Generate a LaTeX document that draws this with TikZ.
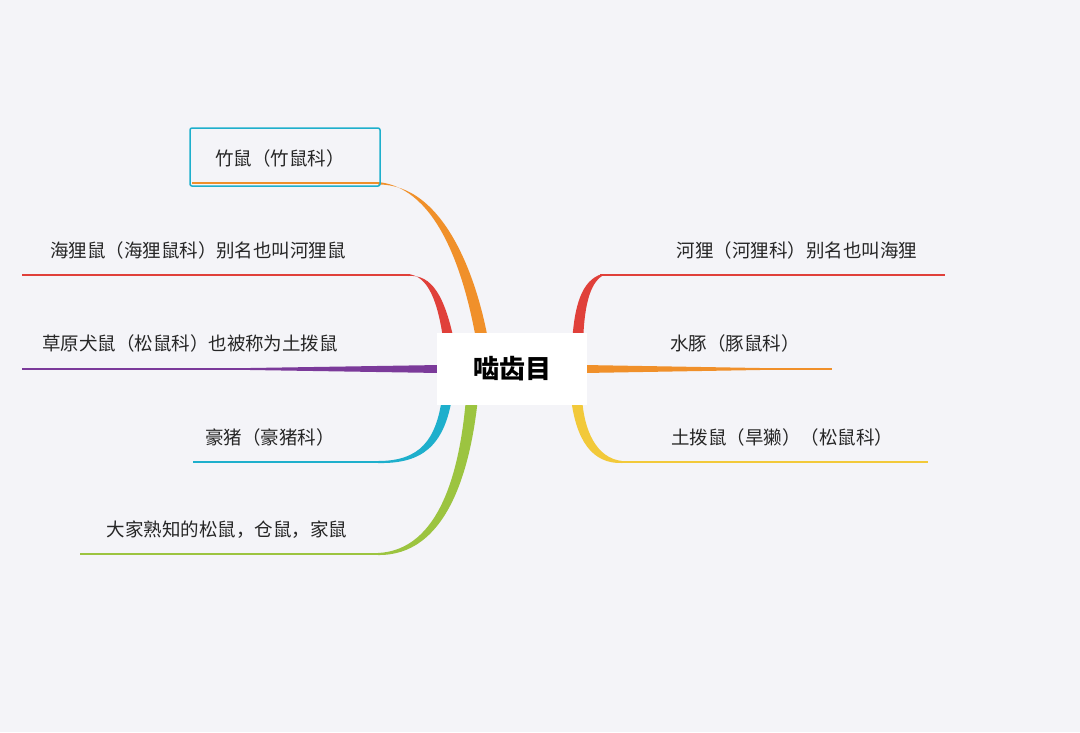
\documentclass[tikz,border=0pt]{standalone}
\usepackage{fontspec}
\setmainfont{Noto Sans CJK SC}
\begin{document}
\begin{tikzpicture}[x=1pt,y=-1pt,
 lbl/.style={font=\fontsize{18.5}{22}\selectfont,text=black!85,inner sep=0},
 ul/.style={line width=2.2pt}]
\definecolor{bg}{HTML}{F4F4F8}
\definecolor{cOr}{HTML}{F0902A}
\definecolor{cRe}{HTML}{E0403A}
\definecolor{cPu}{HTML}{7B3A9A}
\definecolor{cCy}{HTML}{1EAFCC}
\definecolor{cGr}{HTML}{9CC440}
\definecolor{cYe}{HTML}{F2C93A}
\fill[bg] (0,0) rectangle (1080,732);
\useasboundingbox (0,0) rectangle (1080,732);
% left
\coordinate (a1) at (192,183); \coordinate (b1) at (378,183);
\draw[cOr,ul] (a1) -- (b1);
\fill[cOr] (378,182) .. controls (440,188) and (466,280) .. (477,345) -- (489,345) .. controls (478,280) and (445,184) .. (378,184.5) -- cycle;
\node[draw=cCy,line width=1.5pt,rounded corners=2pt,minimum width=190pt,minimum height=58pt] (bx) at (285,157) {};
\node[lbl] (t1) at (280,158) {竹鼠（竹鼠科）};
\coordinate (a2) at (22,275); \coordinate (b2) at (410,275);
\draw[cRe,ul] (a2) -- (b2);
\fill[cRe] (408,274) .. controls (428,276) and (438,300) .. (444,345) -- (455,345) .. controls (445,296) and (432,274) .. (408,276) -- cycle;
\node[lbl] (t2) at (198,250) {海狸鼠（海狸鼠科）别名也叫河狸鼠};
\coordinate (a3) at (22,369); \coordinate (b3) at (440,369);
\draw[cPu,ul] (a3) -- (b3);
\fill[cPu] (250,368) -- (440,365) -- (440,373) -- (250,370) -- cycle;
\node[lbl] (t3) at (190,343) {草原犬鼠（松鼠科）也被称为土拨鼠};
\coordinate (a4) at (193,462); \coordinate (b4) at (380,462);
\draw[cCy,ul] (a4) -- (b4);
\fill[cCy] (378,461) .. controls (420,461) and (436,440) .. (442,398) -- (452,398) .. controls (444,446) and (422,464) .. (378,463) -- cycle;
\node[lbl] (t4) at (270,437) {豪猪（豪猪科）};
\coordinate (a5) at (80,554); \coordinate (b5) at (380,554);
\draw[cGr,ul] (a5) -- (b5);
\fill[cGr] (378,553) .. controls (440,550) and (460,470) .. (466,398) -- (478,398) .. controls (470,475) and (445,556) .. (378,555) -- cycle;
\node[lbl] (t5) at (227,530) {大家熟知的松鼠，仓鼠，家鼠};
% right
\coordinate (a6) at (600,275); \coordinate (b6) at (945,275);
\draw[cRe,ul] (a6) -- (b6);
\fill[cRe] (602,274) .. controls (582,280) and (574,305) .. (572,345) -- (583,345) .. controls (584,305) and (590,284) .. (602,276) -- cycle;
\node[lbl] (t6) at (797,250) {河狸（河狸科）别名也叫海狸};
\coordinate (a7) at (588,369); \coordinate (b7) at (832,369);
\draw[cOr,ul] (a7) -- (b7);
\fill[cOr] (584,365) -- (760,368) -- (760,370) -- (584,373) -- cycle;
\node[lbl] (t7) at (735,343) {水豚（豚鼠科）};
\coordinate (a8) at (620,462); \coordinate (b8) at (928,462);
\draw[cYe,ul] (a8) -- (b8);
\fill[cYe] (622,461) .. controls (596,458) and (584,430) .. (582,398) -- (571,398) .. controls (576,440) and (592,464) .. (622,463) -- cycle;
\node[lbl] (t8) at (782,437) {土拨鼠（旱獭）（松鼠科）};
% center
\node[fill=white,minimum width=150pt,minimum height=72pt,font=\fontsize{26}{30}\selectfont\bfseries] (c) at (512,369) {啮齿目};
\end{tikzpicture}
\end{document}
